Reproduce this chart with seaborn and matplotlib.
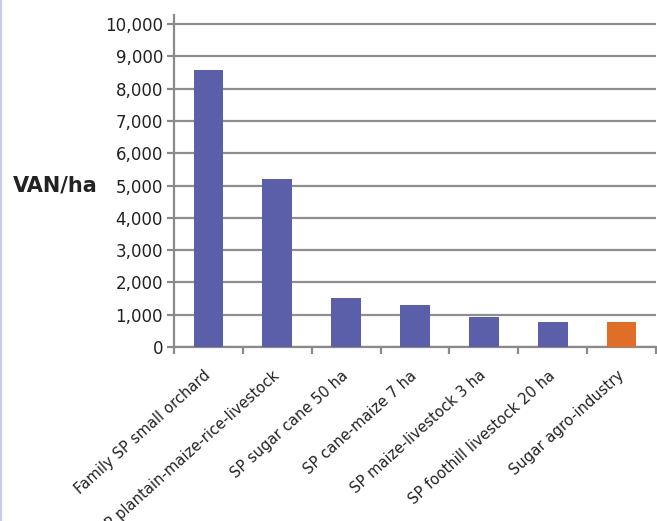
import matplotlib
matplotlib.use("Agg")
import matplotlib.pyplot as plt
import seaborn as sns
import pandas as pd
from matplotlib.ticker import FuncFormatter, FixedLocator
from matplotlib.lines import Line2D

categories = [
    "Family SP small orchard",
    "SP plantain-maize-rice-livestock",
    "SP sugar cane 50 ha",
    "SP cane-maize 7 ha",
    "SP maize-livestock 3 ha",
    "SP foothill livestock 20 ha",
    "Sugar agro-industry",
]
values = [8570, 5200, 1520, 1310, 940, 780, 780]
colors = ["#5B5EA8"] * 6 + ["#DF6E27"]

df = pd.DataFrame({"system": categories, "van": values})

sns.set_theme(style="white")
plt.rcParams["font.family"] = ["DejaVu Sans"]

fig = plt.figure(figsize=(6.57, 5.21), dpi=100)
ax = fig.add_axes([174 / 657, 1 - 347 / 521, (656 - 174) / 657, (347 - 15) / 521])

sns.barplot(data=df, x="system", y="van", hue="system", palette=colors,
            legend=False, width=0.43, saturation=1, linewidth=0,
            edgecolor="none", ax=ax, zorder=3)

ax.set_xlim(-0.5, len(categories) - 0.5)
ax.set_ylim(0, 10280)
ax.set_yticks(range(0, 10001, 1000))
ax.yaxis.set_major_formatter(FuncFormatter(lambda v, p: f"{int(v):,}"))
ax.grid(axis="y", color="#8E8E8E", linewidth=1.6, zorder=0)
ax.grid(axis="x", visible=False)
ax.set_axisbelow(True)

for s in ["top", "right"]:
    ax.spines[s].set_visible(False)
for s in ["left", "bottom"]:
    ax.spines[s].set_color("#8A8A8A")
    ax.spines[s].set_linewidth(1.6)

ax.tick_params(axis="y", which="major", left=True, length=5, width=1.6,
               color="#8A8A8A", labelsize=12, labelcolor="#222222", pad=3)
ax.xaxis.set_minor_locator(FixedLocator([i - 0.5 for i in range(len(categories) + 1)]))
ax.tick_params(axis="x", which="major", bottom=False, length=0, labelsize=10.6,
               labelcolor="#222222", pad=19)
ax.tick_params(axis="x", which="minor", bottom=True, length=5, width=1.6,
               color="#8A8A8A")
for lab in ax.get_xticklabels():
    lab.set_rotation(42)
    lab.set_ha("right")
    lab.set_va("center")
    lab.set_rotation_mode("anchor")

ax.set_xlabel("")
ax.set_ylabel("VAN/ha", rotation=0, fontsize=15, fontweight="bold",
              color="#222222", ha="right", va="center")
ax.yaxis.set_label_coords(-0.158, 0.487)

fig.add_artist(Line2D([0.0015, 0.0015], [0, 1], transform=fig.transFigure,
                      color="#C9CDEA", linewidth=1.5))

fig.savefig("out.png", dpi=100)
